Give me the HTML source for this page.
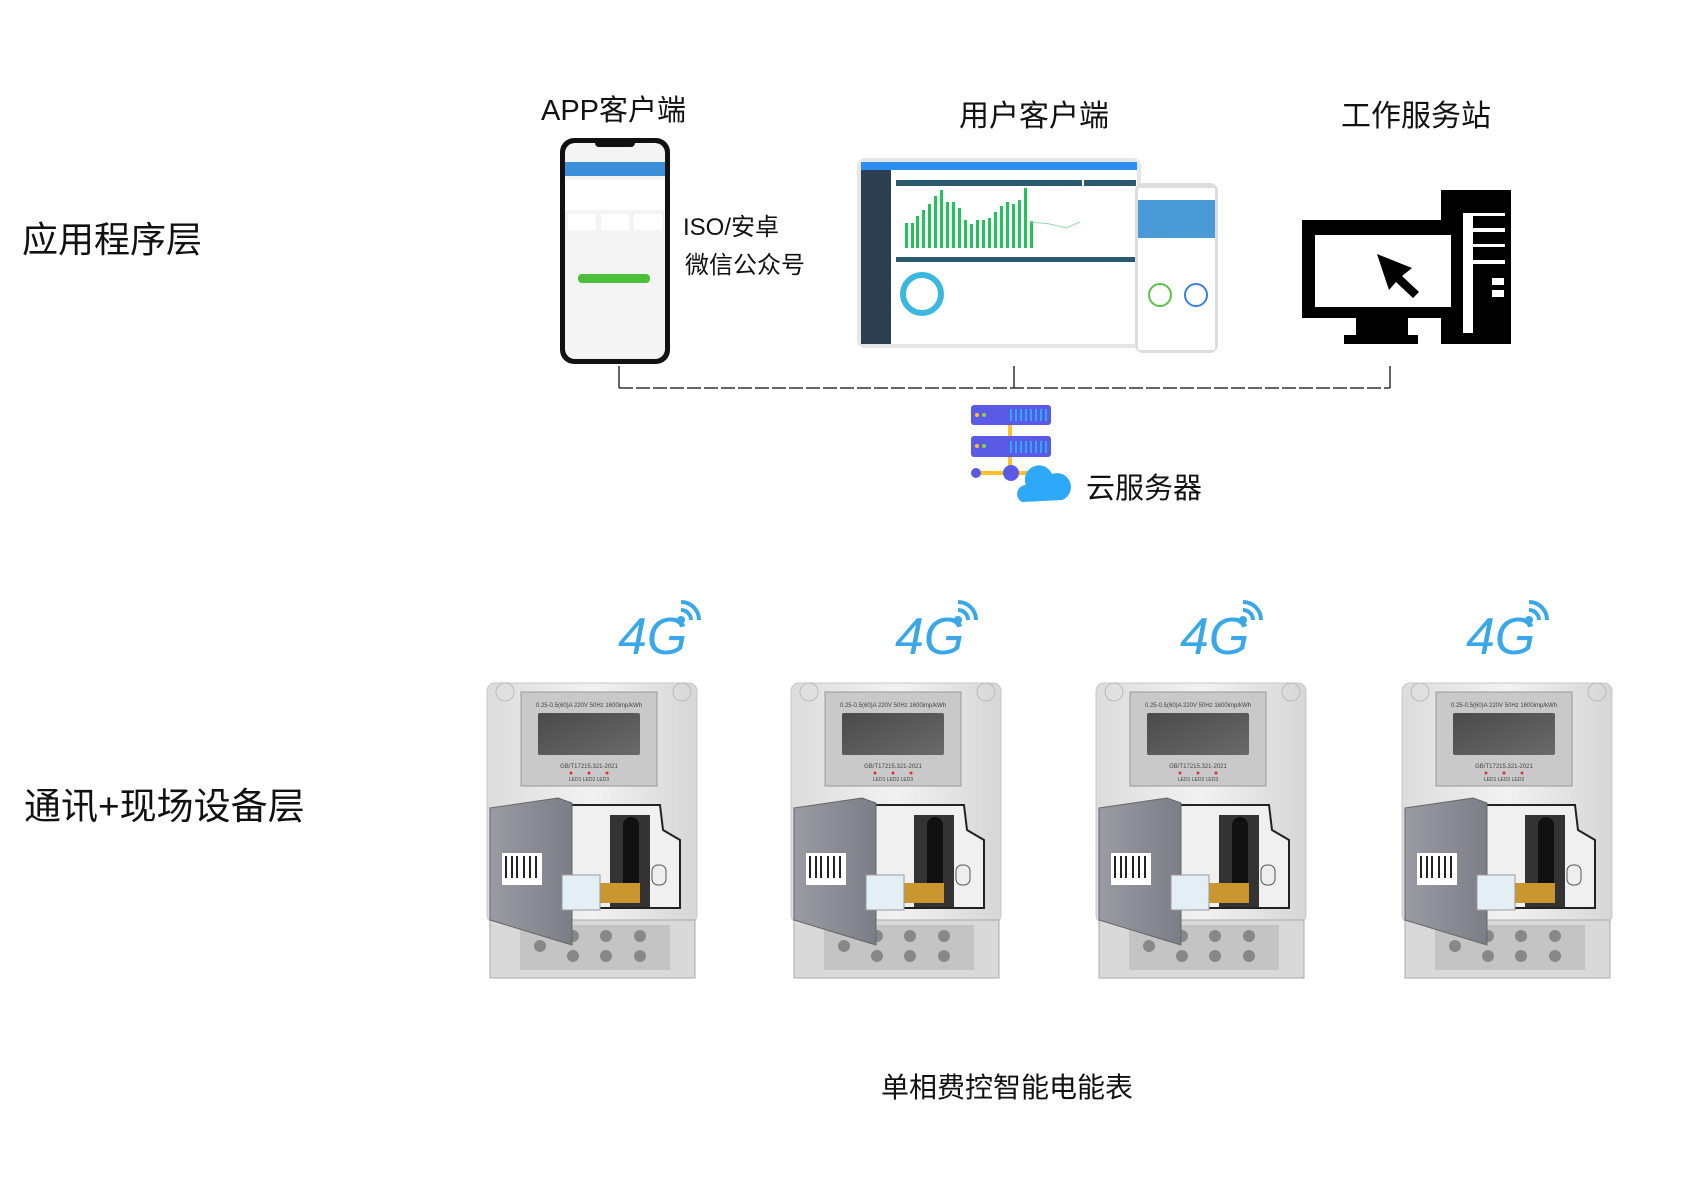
<!DOCTYPE html>
<html><head><meta charset="utf-8"><style>
html,body{margin:0;padding:0;background:#fff}
body{width:1706px;height:1179px;overflow:hidden;position:relative;font-family:"Liberation Sans","Noto Sans CJK SC",sans-serif}
.t{position:absolute;white-space:nowrap;color:#111;line-height:1}
</style></head><body>
<svg width="1706" height="1179" viewBox="0 0 1706 1179" style="position:absolute;left:0;top:0">
<defs>
<linearGradient id="scr" x1="0" y1="0" x2="1" y2="1"><stop offset="0" stop-color="#4a4a4a"/><stop offset="1" stop-color="#6a6a6a"/></linearGradient>
<linearGradient id="body" x1="0" y1="0" x2="1" y2="0"><stop offset="0" stop-color="#dcdcdc"/><stop offset=".5" stop-color="#f2f2f2"/><stop offset="1" stop-color="#d6d6d6"/></linearGradient>
<linearGradient id="cov" x1="0" y1="0" x2="1" y2="0"><stop offset="0" stop-color="#9a9ba3"/><stop offset="1" stop-color="#7c7d86"/></linearGradient>
<g id="meter">
 <rect x="7" y="3" width="210" height="240" rx="8" fill="url(#body)" stroke="#c8c8c8"/>
 <circle cx="25" cy="12" r="9" fill="none" stroke="#bbb"/><circle cx="202" cy="12" r="9" fill="none" stroke="#bbb"/>
 <rect x="41" y="12" width="136" height="94" fill="#c9c9c9" stroke="#999"/>
 <rect x="58" y="33" width="102" height="42" rx="2" fill="url(#scr)"/>
 <text x="109" y="27" font-size="6" text-anchor="middle" fill="#444">0.25-0.5(60)A 220V 50Hz 1600imp/kWh</text>
 <text x="109" y="88" font-size="6" text-anchor="middle" fill="#444">GB/T17215.321-2021</text>
 <circle cx="91" cy="93" r="1.5" fill="#d33"/><circle cx="109" cy="93" r="1.5" fill="#d33"/><circle cx="127" cy="93" r="1.5" fill="#d33"/>
 <text x="109" y="101" font-size="5" text-anchor="middle" fill="#444">LED1  LED2  LED3</text>
 <rect x="10" y="240" width="205" height="58" fill="#d9d9d9" stroke="#aaa"/>
 <rect x="40" y="245" width="150" height="45" fill="#c4c4c4"/>
 <g fill="#888"><circle cx="60" cy="266" r="6"/><circle cx="93" cy="256" r="6"/><circle cx="93" cy="276" r="6"/><circle cx="126" cy="256" r="6"/><circle cx="126" cy="276" r="6"/><circle cx="160" cy="256" r="6"/><circle cx="160" cy="276" r="6"/></g>
 <path d="M78 125 H180 L183 150 L200 160 V228 H78 Z" fill="#f0f0f0" stroke="#222" stroke-width="2"/>
 <rect x="130" y="135" width="40" height="92" fill="#333"/>
 <rect x="143" y="137" width="16" height="80" rx="8" fill="#111"/>
 <rect x="120" y="203" width="40" height="20" fill="#c9962f"/>
 <rect x="172" y="185" width="14" height="20" rx="6" fill="#eee" stroke="#555"/>
 <path d="M10 128 L78 118 L92 123 V265 L82 262 L10 240 Z" fill="url(#cov)" stroke="#666"/>
 <rect x="22" y="173" width="40" height="32" fill="#fff"/>
 <g stroke="#222" stroke-width="2"><line x1="26" y1="176" x2="26" y2="198"/><line x1="32" y1="176" x2="32" y2="198"/><line x1="37" y1="176" x2="37" y2="198"/><line x1="44" y1="176" x2="44" y2="198"/><line x1="50" y1="176" x2="50" y2="198"/><line x1="56" y1="176" x2="56" y2="198"/></g>
 <rect x="82" y="195" width="38" height="35" fill="#e4eef5" stroke="#999"/>
</g>
<g id="g4">
 <text x="0" y="54" font-size="52" font-style="italic" fill="#3aa8e8" font-family="Liberation Sans,sans-serif">4G</text>
 <circle cx="63" cy="20" r="4" fill="#3aa8e8"/>
 <path d="M63 10 A10 10 0 0 1 73 20" stroke="#3aa8e8" stroke-width="4" fill="none"/>
 <path d="M63 2 A18 18 0 0 1 81 20" stroke="#3aa8e8" stroke-width="4" fill="none"/>
</g>
</defs>

<rect x="560" y="138" width="110" height="226" rx="14" fill="#111"/>
<rect x="565" y="143" width="100" height="216" rx="10" fill="#f4f4f4"/>
<rect x="565" y="162" width="100" height="14" fill="#3c8fd9"/>
<rect x="565" y="180" width="100" height="30" fill="#fff"/>
<rect x="568" y="214" width="28" height="16" fill="#fff"/><rect x="601" y="214" width="28" height="16" fill="#fff"/><rect x="634" y="214" width="28" height="16" fill="#fff"/>
<rect x="578" y="274" width="72" height="9" rx="4" fill="#4cbf3a"/>
<rect x="595" y="139" width="40" height="8" rx="4" fill="#111"/>

<rect x="857" y="158" width="284" height="190" rx="8" fill="#e6e6e6"/>
<rect x="861" y="162" width="276" height="182" fill="#fff"/>
<rect x="861" y="162" width="276" height="8" fill="#2b8ef0"/>
<rect x="861" y="170" width="30" height="174" fill="#2c3e50"/>
<rect x="896" y="180" width="186" height="6" fill="#2b5a70"/>
<g fill="#22c35a">
<rect x="905" y="223" width="3" height="25"/><rect x="911" y="223" width="3" height="25"/><rect x="916" y="216" width="3" height="32"/><rect x="922" y="210" width="3" height="38"/><rect x="928" y="204" width="3" height="44"/><rect x="934" y="196" width="3" height="52"/><rect x="940" y="190" width="3" height="58"/><rect x="946" y="202" width="3" height="46"/><rect x="952" y="202" width="3" height="46"/><rect x="958" y="208" width="3" height="40"/><rect x="964" y="220" width="3" height="28"/><rect x="970" y="224" width="3" height="24"/><rect x="976" y="220" width="3" height="28"/><rect x="982" y="220" width="3" height="28"/><rect x="988" y="218" width="3" height="30"/><rect x="994" y="212" width="3" height="36"/><rect x="1000" y="206" width="3" height="42"/><rect x="1006" y="202" width="3" height="46"/><rect x="1012" y="204" width="3" height="44"/><rect x="1018" y="200" width="3" height="48"/><rect x="1024" y="188" width="3" height="60"/><rect x="1030" y="221" width="3" height="27"/></g>
<path d="M1030 222 L1050 224 L1066 228 L1080 222" stroke="#9bd8b0" fill="none"/>
<rect x="1084" y="180" width="52" height="6" fill="#2b5a70"/>
<rect x="896" y="257" width="240" height="5" fill="#2b5a70"/>
<circle cx="922" cy="294" r="19" fill="none" stroke="#3cb8e0" stroke-width="6"/>
<rect x="1135" y="183" width="83" height="170" rx="8" fill="#ddd"/>
<rect x="1138" y="188" width="77" height="162" fill="#fff"/>
<rect x="1138" y="200" width="77" height="38" fill="#4a9ad8"/>
<circle cx="1160" cy="295" r="11" fill="none" stroke="#5cc04a" stroke-width="2"/>
<circle cx="1196" cy="295" r="11" fill="none" stroke="#3a80e0" stroke-width="2"/>

<rect x="1441" y="190" width="70" height="154" fill="#000"/>
<rect x="1463" y="213" width="10" height="120" fill="#fff"/>
<g fill="#fff"><rect x="1473" y="213" width="32" height="3"/><rect x="1473" y="228" width="32" height="4"/><rect x="1473" y="244" width="32" height="3"/><rect x="1473" y="260" width="32" height="4"/><rect x="1492" y="278" width="12" height="7"/><rect x="1492" y="290" width="12" height="7"/></g>
<rect x="1302" y="220" width="161" height="98" fill="#000"/>
<rect x="1315" y="235" width="136" height="72" fill="#fff"/>
<rect x="1356" y="318" width="52" height="17" fill="#000"/><rect x="1344" y="335" width="74" height="9" fill="#000"/>
<path d="M1377 254 L1412 268 L1402 276 L1419 292 L1413 298 L1396 282 L1389 290 Z" fill="#000"/>

<g stroke="#333" stroke-width="1.5" fill="none">
<line x1="619" y1="366" x2="619" y2="388"/><line x1="1014" y1="366" x2="1014" y2="388"/><line x1="1390" y1="366" x2="1390" y2="388"/>
<line x1="619" y1="388" x2="1390" y2="388" stroke-dasharray="14,3"/></g>

<line x1="1010" y1="425" x2="1010" y2="473" stroke="#ffbf2e" stroke-width="4"/>
<line x1="976" y1="473" x2="1035" y2="473" stroke="#ffbf2e" stroke-width="4"/>
<rect x="971" y="405" width="80" height="20" rx="3" fill="#5a5ae6"/><rect x="971" y="436" width="80" height="21" rx="3" fill="#5a5ae6"/>
<g stroke="#2ea8f8" stroke-width="2"><path d="M1011 409v12M1016 409v12M1021 409v12M1026 409v12M1031 409v12M1036 409v12M1041 409v12M1046 409v12M1011 441v12M1016 441v12M1021 441v12M1026 441v12M1031 441v12M1036 441v12M1041 441v12M1046 441v12"/></g>
<circle cx="977" cy="415" r="2" fill="#ffbf2e"/><circle cx="984" cy="415" r="2" fill="#8ed04a"/><circle cx="977" cy="446" r="2" fill="#ffbf2e"/><circle cx="984" cy="446" r="2" fill="#8ed04a"/>
<circle cx="976" cy="473" r="5" fill="#5a5ae6"/><circle cx="1011" cy="473" r="8" fill="#5a5ae6"/>
<path d="M1022 502 A9 9 0 0 1 1026 485 A14 14 0 0 1 1052 474 A13 13 0 0 1 1062 500 Z" fill="#2ea8f8"/>

<use href="#meter" transform="translate(480,680)"/>
<use href="#meter" transform="translate(784,680)"/>
<use href="#meter" transform="translate(1089,680)"/>
<use href="#meter" transform="translate(1395,680)"/>
<use href="#g4" transform="translate(618,600)"/>
<use href="#g4" transform="translate(895,600)"/>
<use href="#g4" transform="translate(1180,600)"/>
<use href="#g4" transform="translate(1466,600)"/>
</svg>
<div class="t" style="left:22px;top:222px;font-size:36px">应用程序层</div>
<div class="t" style="left:24px;top:788px;font-size:37px">通讯+现场设备层</div>
<div class="t" style="left:541px;top:97px;font-size:29px">APP客户端</div>
<div class="t" style="left:959px;top:102px;font-size:30px">用户客户端</div>
<div class="t" style="left:1341px;top:102px;font-size:30px">工作服务站</div>
<div class="t" style="left:683px;top:216px;font-size:24px">ISO/安卓</div>
<div class="t" style="left:685px;top:254px;font-size:24px">微信公众号</div>
<div class="t" style="left:1086px;top:475px;font-size:29px">云服务器</div>
<div class="t" style="left:881px;top:1074px;font-size:28px">单相费控智能电能表</div>
</body></html>
